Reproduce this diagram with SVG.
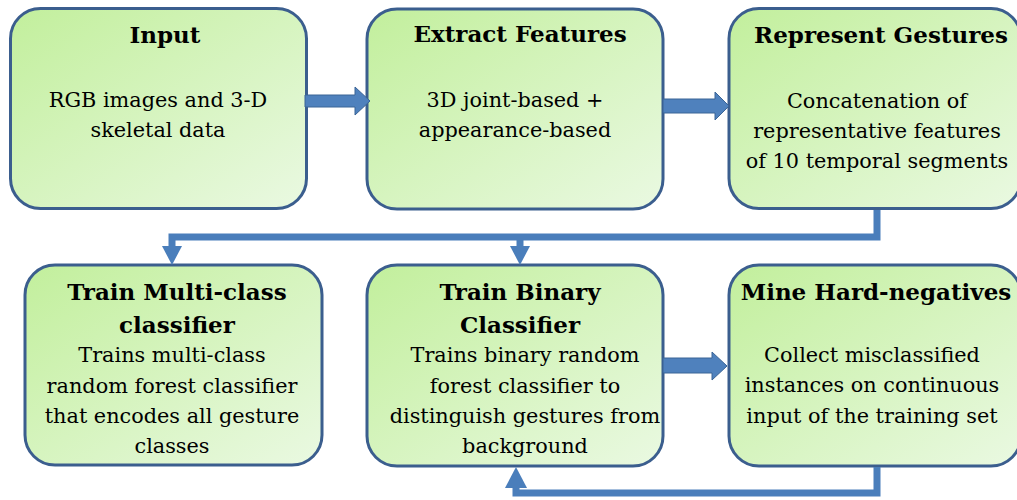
<svg xmlns="http://www.w3.org/2000/svg" width="1017" height="500" viewBox="0 0 1017 500">
<defs>
<linearGradient id="g" x1="0" y1="0" x2="1" y2="1">
<stop offset="0" stop-color="#C2EF9C"/>
<stop offset="1" stop-color="#EAF9E2"/>
</linearGradient>
<style>
.box{fill:url(#g);stroke:#3B5E8E;stroke-width:3}
.t{font-family:"DejaVu Serif","Liberation Serif",serif;font-weight:bold;font-size:23px;fill:#000;text-anchor:middle}
.b{font-family:"DejaVu Serif","Liberation Serif",serif;font-size:20.8px;fill:#000;text-anchor:middle}
.blk{fill:#4F81BD;stroke:#3A6496;stroke-width:1}
.ln{fill:none;stroke:#4A7EBB;stroke-width:7}
.hd{fill:#4A7EBB}
</style>
</defs>
<g id="input">
<rect class="box" x="10.5" y="8.5" width="296" height="200" rx="30"/>
<text class="t" x="165" y="43">Input</text>
<text class="b" x="158" y="107">RGB images and 3-D</text>
<text class="b" x="158" y="137">skeletal data</text>
</g>
<g id="extract">
<rect class="box" x="367" y="9" width="296" height="200" rx="30"/>
<text class="t" x="520" y="42">Extract Features</text>
<text class="b" x="515" y="107">3D joint-based +</text>
<text class="b" x="515" y="137">appearance-based</text>
</g>
<g id="represent">
<rect class="box" x="729" y="8.5" width="292" height="200" rx="30"/>
<text class="t" x="881" y="43">Represent Gestures</text>
<text class="b" x="877" y="108">Concatenation of</text>
<text class="b" x="877" y="138">representative features</text>
<text class="b" x="877" y="168">of 10 temporal segments</text>
</g>
<g id="multiclass">
<rect class="box" x="25" y="265" width="297" height="200" rx="30"/>
<text class="t" x="177" y="300">Train Multi-class</text>
<text class="t" x="177" y="333">classifier</text>
<text class="b" x="172" y="362">Trains multi-class</text>
<text class="b" x="172" y="393">random forest classifier</text>
<text class="b" x="172" y="423">that encodes all gesture</text>
<text class="b" x="172" y="453">classes</text>
</g>
<g id="binary">
<rect class="box" x="367" y="265" width="296" height="201" rx="30"/>
<text class="t" x="520" y="300">Train Binary</text>
<text class="t" x="520" y="333">Classifier</text>
<text class="b" x="525" y="362">Trains binary random</text>
<text class="b" x="525" y="393">forest classifier to</text>
<text class="b" x="525" y="423">distinguish gestures from</text>
<text class="b" x="525" y="453">background</text>
</g>
<g id="mine">
<rect class="box" x="729" y="265" width="292" height="201" rx="30"/>
<text class="t" x="876" y="300">Mine Hard-negatives</text>
<text class="b" x="872" y="362">Collect misclassified</text>
<text class="b" x="872" y="392">instances on continuous</text>
<text class="b" x="872" y="423">input of the training set</text>
</g>
<g id="connectors">
<polygon class="blk" points="305,95 355,95 355,87 370,101 355,115 355,107 305,107"/>
<polygon class="blk" points="663,99 715,99 715,92 729,106 715,120 715,113 663,113"/>
<polygon class="blk" points="663,358 712,358 712,352 727,366 712,380 712,373 663,373"/>
<polyline class="ln" points="877,210 877,237 172,237 172,248"/>
<polygon class="hd" points="162,246 182,246 172,265"/>
<line class="ln" x1="520" y1="237" x2="520" y2="248"/>
<polygon class="hd" points="510,246 530,246 520,265"/>
<polyline class="ln" points="877,467 877,493 516,493 516,486"/>
<polygon class="hd" points="505,488 527,488 516,467"/>
</g>
</svg>
